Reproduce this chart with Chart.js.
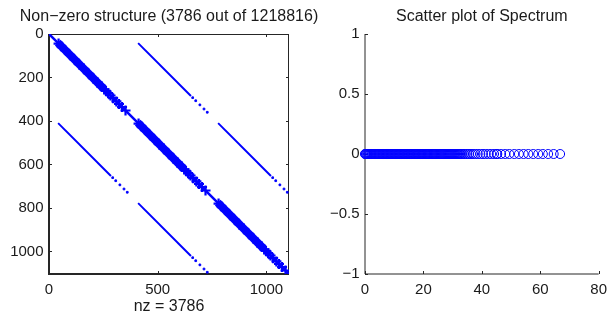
<!DOCTYPE html>
<html>
<head>
<meta charset="utf-8">
<script src="https://cdn.jsdelivr.net/npm/chart.js@4/dist/chart.umd.min.js"></script>
<style>
body{margin:0;background:#fff;overflow:hidden;}
#wrap{position:relative;width:614px;height:320px;overflow:hidden;}
#spy{position:absolute;left:0;top:0;}
#eig{position:absolute;left:310px;top:0;}
</style>
</head>
<body>
<div id="wrap">
<canvas id="spy" width="338" height="320"></canvas>
<canvas id="eig" width="304" height="320"></canvas>
</div>
<script>
// sparse matrix 1104 x 1104, made of 3 x 3 blocks of 368
var n = 1104;
var blocks = [0, 368, 736];
var nz = 3786;
// dense band on the diagonal of every diagonal block (local indices)
var bandStart = 40, bandEnd = 250;
// rows with many neighbours, they show as "+" marks
var bandNodes = [44, 58, 73, 96, 118, 141, 160, 182, 205, 224, 241, 255, 262, 272, 283, 295, 310, 322, 336, 352];
// coupling diagonals between neighbouring blocks [blockRow, blockCol]
var couplings = [[0, 1], [1, 0], [1, 2], [2, 1]];
var couplingStart = 42, couplingEnd = 285;
var couplingDots = [293, 307, 326, 345, 360];
var spyXTicks = [0, 500, 1000];
var spyYTicks = [0, 200, 400, 600, 800, 1000];

// eigenvalues (all real)
var spectrum = [0, 0.12, 0.31, 0.55, 0.8, 1.02, 1.3, 1.55, 1.79, 2.1, 2.36, 2.6, 2.88, 3.15, 3.4, 3.7, 3.95, 4.2, 4.5, 4.78,
  5.05, 5.3, 5.62, 5.9, 6.15, 6.44, 6.7, 7.0, 7.28, 7.55, 7.83, 8.1, 8.4, 8.66, 8.95, 9.22, 9.5, 9.8, 10.06, 10.35,
  10.62, 10.9, 11.2, 11.47, 11.75, 12.03, 12.32, 12.6, 12.88, 13.17, 13.45, 13.73, 14.02, 14.3, 14.6, 14.88, 15.16, 15.45, 15.73, 16.02,
  16.3, 16.6, 16.88, 17.17, 17.45, 17.75, 18.04, 18.33, 18.62, 18.9, 19.2, 19.5, 19.78, 20.07, 20.37, 20.66, 20.95, 21.25, 21.55, 21.84,
  22.14, 22.43, 22.73, 23.03, 23.33, 23.62, 23.92, 24.22, 24.52, 24.83, 25.13, 25.43, 25.74, 26.05, 26.35, 26.66, 26.97, 27.28, 27.6, 27.9,
  28.22, 28.54, 28.86, 29.18, 29.5, 29.83, 30.16, 30.5, 30.84, 31.18, 31.53, 31.88, 32.24, 32.6, 32.97,
  33.4, 33.9, 34.4, 35.0, 35.6, 36.3, 37.0, 37.8, 38.6, 39.5, 40.4, 41.3, 42.3, 43.2, 44.2, 45.1, 45.3,
  46.6, 48.0, 49.4, 51.1, 52.7, 54.3, 55.9, 57.6, 59.3, 60.9, 62.7, 64.6, 66.8];
var eigXTicks = [0, 20, 40, 60, 80];
var eigYTicks = [-1, -0.5, 0, 0.5, 1];

var blue = '#0000ff';
var ink = '#1a1a1a';
var fontName = '"Liberation Sans", Arial, sans-serif';

// axis lines and inward ticks like matlab
var axesBox = {
  id: 'axesBox',
  beforeDatasetsDraw: function(chart, args, opts) {
    var ctx = chart.ctx, a = chart.chartArea;
    var xs = chart.scales.x, ys = chart.scales.y;
    ctx.save();
    ctx.strokeStyle = '#262626';
    ctx.lineWidth = opts.axisWidth;
    ctx.beginPath();
    ctx.moveTo(a.left, a.top);
    ctx.lineTo(a.left, a.bottom);
    ctx.lineTo(a.right, a.bottom);
    ctx.stroke();
    ctx.lineWidth = 1;
    ctx.beginPath();
    if (opts.box) {
      ctx.moveTo(a.left, a.top + 0.5);
      ctx.lineTo(a.right - 0.5, a.top + 0.5);
      ctx.lineTo(a.right - 0.5, a.bottom);
    }
    xs.ticks.forEach(function(t) {
      var px = Math.round(xs.getPixelForValue(t.value)) + 0.5;
      ctx.moveTo(px, a.bottom); ctx.lineTo(px, a.bottom - 3);
      if (opts.box) { ctx.moveTo(px, a.top); ctx.lineTo(px, a.top + 3); }
    });
    ys.ticks.forEach(function(t) {
      var py = Math.round(ys.getPixelForValue(t.value)) + 0.5;
      ctx.moveTo(a.left, py); ctx.lineTo(a.left + 3, py);
      if (opts.box) { ctx.moveTo(a.right, py); ctx.lineTo(a.right - 3, py); }
    });
    ctx.stroke();
    ctx.restore();
  }
};

function minus(v) {
  return v < 0 ? '\u2212' + Math.abs(v) : String(v);
}

function baseOptions(title, left, right, xTicks, yTicks, fullTitle) {
  return {
    responsive: false,
    devicePixelRatio: 1,
    animation: false,
    layout: { padding: { left: 0, right: right, top: 0, bottom: 0 } },
    plugins: {
      legend: { display: false },
      tooltip: { enabled: false },
      title: {
        display: true, text: title, color: ink, fullSize: fullTitle,
        font: { family: fontName, size: 16, weight: 'normal' },
        padding: { top: 7, bottom: 7.8 }
      },
      axesBox: { axisWidth: 1, box: false }
    },
    scales: {
      x: {
        type: 'linear',
        grid: { display: false, drawTicks: false }, border: { display: false },
        afterBuildTicks: function(s) { s.ticks = xTicks.map(function(v) { return { value: v }; }); },
        afterFit: function(s) { s.height = 46; },
        ticks: { color: ink, padding: 7, maxRotation: 0, font: { family: fontName, size: 15 }, callback: minus }
      },
      y: {
        type: 'linear',
        grid: { display: false, drawTicks: false }, border: { display: false },
        afterBuildTicks: function(s) { s.ticks = yTicks.map(function(v) { return { value: v }; }); },
        afterFit: function(s) { s.width = left; },
        ticks: { color: ink, padding: 5.5, font: { family: fontName, size: 15 }, callback: minus }
      }
    }
  };
}

// ---- spy plot ----
var spySets = [];
spySets.push({ data: [{ x: 0, y: 0 }, { x: n, y: n }], showLine: true, borderColor: blue, borderWidth: 2.5, pointRadius: 0 });
blocks.forEach(function(b) {
  spySets.push({ data: [{ x: b + bandStart, y: b + bandStart }, { x: b + bandEnd, y: b + bandEnd }],
    showLine: true, borderColor: blue, borderWidth: 8, pointRadius: 0 });
  spySets.push({ data: bandNodes.map(function(i) { return { x: b + i, y: b + i }; }),
    pointStyle: 'cross', pointRadius: 5, borderColor: blue, pointBorderWidth: 2.2 });
});
couplings.forEach(function(c) {
  var r0 = blocks[c[0]], c0 = blocks[c[1]];
  spySets.push({ data: [{ x: c0 + couplingStart, y: r0 + couplingStart }, { x: c0 + couplingEnd, y: r0 + couplingEnd }],
    showLine: true, borderColor: blue, borderWidth: 2, pointRadius: 0 });
  spySets.push({ data: couplingDots.map(function(i) { return { x: c0 + i, y: r0 + i }; }),
    pointStyle: 'rect', pointRadius: 1.2, borderColor: blue, backgroundColor: blue, pointBorderWidth: 1 });
});

// canvas is wider than the plot, an empty right axis keeps the long title centred over the axes
var spyOpts = baseOptions('Non\u2212zero structure (' + nz + ' out of ' + (n * n) + ')', 49, 0, spyXTicks, spyYTicks, true);
spyOpts.plugins.axesBox = { axisWidth: 2, box: true };
spyOpts.scales.x.min = 0; spyOpts.scales.x.max = n;
spyOpts.scales.y.min = 0; spyOpts.scales.y.max = n; spyOpts.scales.y.reverse = true;
spyOpts.scales.x.title = { display: true, text: 'nz = ' + nz, color: ink,
  font: { family: fontName, size: 16 }, padding: { top: 0, bottom: 4 } };
spyOpts.scales.yRight = {
  type: 'linear', position: 'right', min: 0, max: 1,
  grid: { display: false, drawTicks: false }, border: { display: false },
  ticks: { display: false },
  afterFit: function(s) { s.width = 49; }
};

new Chart(document.getElementById('spy'), {
  type: 'scatter',
  data: { datasets: spySets },
  options: spyOpts,
  plugins: [axesBox]
});

// ---- spectrum ----
var eigOpts = baseOptions('Scatter plot of Spectrum', 55, 10, eigXTicks, eigYTicks, false);
eigOpts.scales.x.min = 0; eigOpts.scales.x.max = 80;
eigOpts.scales.y.min = -1; eigOpts.scales.y.max = 1;

new Chart(document.getElementById('eig'), {
  type: 'scatter',
  data: {
    datasets: [{
      data: spectrum.map(function(v) { return { x: v, y: 0 }; }),
      pointStyle: 'circle', pointRadius: 4.5, borderColor: blue, backgroundColor: 'rgba(0,0,0,0)',
      pointBorderWidth: 1, clip: false
    }]
  },
  options: eigOpts,
  plugins: [axesBox]
});
</script>
</body>
</html>
